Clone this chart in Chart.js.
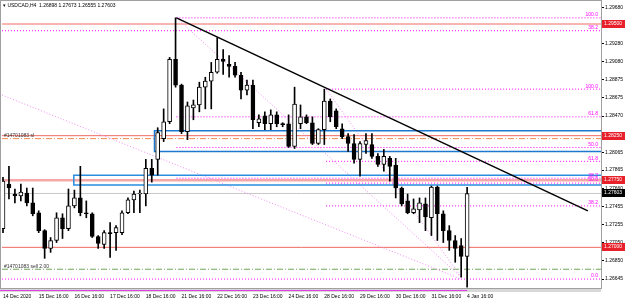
<!DOCTYPE html>
<html>
<head>
<meta charset="utf-8">
<script src="https://cdn.jsdelivr.net/npm/chart.js@4.4.0/dist/chart.umd.min.js"></script>
<style>
  html, body { margin: 0; padding: 0; background: #fff; }
  canvas { display: block; }
</style>
</head>
<body>
<canvas id="chart" width="625" height="302"></canvas>
<script>
// USDCAD H4 candles, 14 Dec 16:00 .. 4 Jan 16:00
const opens = [1.27209,1.27708,1.27597,1.27575,1.27608,1.27497,1.27387,1.27187,1.26988,1.27077,
  1.27331,1.27209,1.27464,1.27553,1.27387,1.27376,1.27121,1.27032,1.27165,1.27165,
  1.27165,1.27387,1.27531,1.27597,1.27597,1.27885,1.27985,1.28217,1.28406,1.29104,
  1.28816,1.28295,1.28561,1.28594,1.28793,1.28860,1.28960,1.29104,1.29048,1.29026,
  1.28926,1.28760,1.28816,1.28395,1.28472,1.28384,1.28483,1.28384,1.28384,1.28129,
  1.28384,1.28461,1.28395,1.28162,1.28317,1.28638,1.28528,1.28328,1.28240,1.28162,
  1.27985,1.28151,1.28151,1.28018,1.27929,1.27996,1.27918,1.27664,1.27520,1.27387,
  1.27420,1.27486,1.27331,1.27675,1.27376,1.27187,1.27077,1.27021,1.26898];
const highs = [1.27785,1.27907,1.27653,1.27708,1.27664,1.27664,1.27409,1.27198,1.27110,1.27387,
  1.27376,1.27653,1.27641,1.27907,1.27520,1.27387,1.27132,1.27187,1.27276,1.27243,
  1.27409,1.27553,1.27630,1.27641,1.27985,1.27985,1.28339,1.28550,1.29126,1.29569,
  1.28827,1.28627,1.28649,1.28849,1.28904,1.29070,1.29347,1.29214,1.29148,1.29070,
  1.28960,1.28871,1.28871,1.28483,1.28517,1.28539,1.28517,1.28395,1.28483,1.28793,
  1.28594,1.28483,1.28461,1.28328,1.28771,1.28661,1.28550,1.28384,1.28273,1.28262,
  1.28184,1.28273,1.28273,1.28051,1.28096,1.28018,1.27996,1.27675,1.27597,1.27542,
  1.27553,1.27553,1.27686,1.27686,1.27409,1.27243,1.27132,1.27099,1.27673];
const lows = [1.27165,1.27542,1.27497,1.27520,1.27464,1.27353,1.27165,1.26877,1.26944,1.27054,
  1.27099,1.27187,1.27442,1.27353,1.27331,1.27110,1.26988,1.26988,1.26888,1.26966,
  1.27143,1.27376,1.27387,1.27387,1.27464,1.27730,1.27808,1.28184,1.28384,1.28793,
  1.28273,1.28206,1.28428,1.28517,1.28550,1.28550,1.28949,1.28937,1.28904,1.28904,
  1.28661,1.28705,1.28328,1.28350,1.28317,1.28317,1.28350,1.28350,1.28118,1.28107,
  1.28328,1.28384,1.28151,1.28151,1.28151,1.28406,1.28328,1.28217,1.28073,1.27941,
  1.27797,1.28051,1.27996,1.27907,1.27852,1.27741,1.27553,1.27464,1.27376,1.27376,
  1.27276,1.27187,1.27132,1.27077,1.27054,1.26966,1.26833,1.26667,1.26555];
const closes = [1.27741,1.27664,1.27575,1.27619,1.27497,1.27376,1.27187,1.26988,1.27077,1.27331,
  1.27209,1.27464,1.27553,1.27387,1.27376,1.27121,1.27043,1.27165,1.27154,1.27220,
  1.27387,1.27531,1.27597,1.27608,1.27885,1.27808,1.28284,1.28406,1.29104,1.28816,
  1.28295,1.28583,1.28594,1.28793,1.28860,1.28960,1.29104,1.29081,1.29026,1.28926,
  1.28760,1.28816,1.28428,1.28439,1.28384,1.28483,1.28384,1.28373,1.28129,1.28605,
  1.28461,1.28395,1.28162,1.28317,1.28638,1.28461,1.28350,1.28240,1.28162,1.27985,
  1.28162,1.28195,1.28018,1.27929,1.28018,1.27907,1.27664,1.27486,1.27387,1.27431,
  1.27497,1.27342,1.27675,1.27376,1.27187,1.27077,1.26988,1.26899,1.27603];

// time axis labels (bar index -> text)
const timeTickIdx = [0, 6, 12, 18, 24, 30, 36, 42, 48, 54, 60, 66, 72, 78];
const timeTickLabels = ['14 Dec 2020', '15 Dec 16:00', '16 Dec 16:00', '17 Dec 16:00', '18 Dec 16:00',
  '21 Dec 16:00', '22 Dec 16:00', '23 Dec 16:00', '24 Dec 16:00', '28 Dec 16:00',
  '29 Dec 16:00', '30 Dec 16:00', '31 Dec 16:00', '4 Jan 16:00'];

// price axis labels
const priceTicks = [1.29680, 1.29475, 1.29280, 1.29080, 1.28875, 1.28675, 1.28470, 1.28265,
  1.28065, 1.27865, 1.27660, 1.27455, 1.27255, 1.27050, 1.26850, 1.26645];
const priceTickLabels = ['1.29680', '1.29475', '1.29280', '1.29080', '1.28875', '1.28675', '1.28470', '1.28265',
  '1.28065', '1.27865', '1.27660', '1.27455', '1.27255', '1.27050', '1.26850', '1.26645'];

// user horizontal lines (red)
const redLevels = [1.29500, 1.28250, 1.27750, 1.27000];
const redLabels = ['1.29500', '1.28250', '1.27750', '1.27000'];
const bidPrice = 1.27603;

// order lines
const slPrice = 1.28217;
const entryPrice = 1.26755;

// fibonacci levels
const fib1Start = 29.15;
const fib1Levels = [1.29569, 1.28461, 1.28118, 1.27774];
const fib1Names = ['100.0', '61.8', '50.0', '38.2'];
const fib2Start = 54.3;
const fib2Levels = [1.28771, 1.27963, 1.27719, 1.27464];
const fib2Names = ['100.0', '61.8', '50.0', '38.2'];
const fib3Levels = [1.29425, 1.26645];
const fib3Names = ['38.2', '0.0'];
const fibDiagX = [[29.15, 77], [54.3, 77], [-0.17, 77]];
const fibDiagY = [[1.29569, 1.26667], [1.28771, 1.26667], [1.28705, 1.26645]];

// trend line and zones
const trendX = [29.15, 98.3];
const trendY = [1.29569, 1.27409];
const zoneX = [25.46, 11.9];
const zoneTop = [1.28306, 1.27808];
const zoneBottom = [1.28073, 1.27697];

const X_MIN = -0.17, X_MAX = 100.5;
const Y_MIN = 1.26545, Y_MAX = 1.29724;

function hline(y, x0, color, dash, width) {
  return {
    type: 'line', data: [{x: x0, y: y}, {x: X_MAX, y: y}],
    borderColor: color, borderWidth: width || 1, borderDash: dash || [],
    pointRadius: 0, order: 5
  };
}

const lineSets = [];
fib3Levels.forEach(v => lineSets.push(hline(v, X_MIN, '#ff00ff', [1, 2])));
fib1Levels.forEach(v => lineSets.push(hline(v, fib1Start, '#ff00ff', [1, 2])));
fib2Levels.forEach(v => lineSets.push(hline(v, fib2Start, '#ff00ff', [1, 2])));
fibDiagX.forEach((xs, k) => lineSets.push({
  type: 'line', data: [{x: xs[0], y: fibDiagY[k][0]}, {x: xs[1], y: fibDiagY[k][1]}],
  borderColor: '#f48cf4', borderWidth: 1, borderDash: [1, 2], pointRadius: 0, order: 5
}));
lineSets.push(hline(bidPrice, X_MIN, '#c8c8c8'));
redLevels.forEach((v, k) => lineSets.push(hline(v, X_MIN, k === 2 ? '#f6a8a8' : '#f06a62', [], k === 2 ? 2.5 : 1)));
lineSets.push(hline(slPrice, X_MIN, '#f08a4a', [6, 2, 1, 2]));
lineSets.push(hline(entryPrice, X_MIN, '#6fa85a', [6, 2, 1, 2]));
zoneX.forEach((x0, k) => lineSets.push({
  type: 'line',
  data: [{x: X_MAX, y: zoneTop[k]}, {x: x0, y: zoneTop[k]}, {x: x0, y: zoneBottom[k]}, {x: X_MAX, y: zoneBottom[k]}],
  borderColor: k === 0 ? '#1f78cf' : '#2a8ee0', borderWidth: 1.5, pointRadius: 0, order: 4
}));
lineSets.push({
  type: 'line', data: [{x: trendX[0], y: trendY[0]}, {x: trendX[1], y: trendY[1]}],
  borderColor: '#000', borderWidth: 1.5, pointRadius: 0, order: 3
});

const bull = opens.map((o, i) => closes[i] >= o);

const overlay = {
  id: 'overlay',
  beforeDraw(chart) {
    const c = chart.ctx;
    c.save();
    c.fillStyle = '#fff';
    c.fillRect(0, 0, chart.width, chart.height);
    c.restore();
  },
  afterDraw(chart) {
    const c = chart.ctx, ys = chart.scales.y, xs = chart.scales.x, a = chart.chartArea;
    c.save();
    c.font = '5px "Liberation Sans"';
    c.textBaseline = 'middle';
    // fib labels
    c.fillStyle = '#ff00ff';
    c.textAlign = 'right';
    const fl = (v, t) => c.fillText(t, a.right - 3, ys.getPixelForValue(v) - 3);
    fib1Levels.forEach((v, k) => fl(v, fib1Names[k]));
    fib2Levels.forEach((v, k) => fl(v, fib2Names[k]));
    fib3Levels.forEach((v, k) => fl(v, fib3Names[k]));
    // order labels
    c.textAlign = 'left';
    c.fillStyle = '#333';
    c.fillText('#14701083 sl', 4, ys.getPixelForValue(slPrice) - 3);
    c.fillText('#14701083 sell 2.00', 4, ys.getPixelForValue(entryPrice) - 3);
    // title
    c.fillStyle = '#000';
    c.fillText('\u25BE USDCAD,H4  1.26898 1.27673 1.26555 1.27603', 3, 6);
    // price boxes
    const box = (v, t, bg) => {
      const y = Math.round(ys.getPixelForValue(v));
      c.fillStyle = bg;
      c.fillRect(a.right + 1, y - 4, 23, 8);
      c.fillStyle = '#fff';
      c.fillText(t, a.right + 3, y);
    };
    redLevels.forEach((v, k) => box(v, redLabels[k], '#e8202a'));
    box(bidPrice, '1.27603', '#000');
    // bottom strip
    c.fillStyle = '#d8d8d8';
    c.fillRect(0, a.bottom + 1, a.right, 3);
    c.fillStyle = '#e040e0';
    c.fillRect(0, a.bottom + 2, xs.getPixelForValue(78), 1);
    // frame
    c.strokeStyle = '#a0a0a0';
    c.lineWidth = 1;
    c.strokeRect(0.5, 0.5, a.right, a.bottom);
    c.restore();
  }
};

new Chart(document.getElementById('chart'), {
  type: 'bar',
  data: {
    datasets: [
      {
        label: 'wicks',
        data: lows.map((l, i) => ({x: i, y: [l, highs[i]]})),
        backgroundColor: '#000', barThickness: 1, grouped: false, order: 2
      },
      {
        label: 'bodies',
        data: opens.map((o, i) => ({x: i, y: [o, closes[i]]})),
        backgroundColor: bull.map(b => b ? '#fff' : '#000'),
        borderColor: '#000', borderWidth: 1, borderSkipped: false,
        barThickness: 4, minBarLength: 1, grouped: false, order: 1
      },
      ...lineSets
    ]
  },
  options: {
    responsive: false,
    animation: false,
    devicePixelRatio: 1,
    layout: { padding: { top: 1, left: 0, right: 0, bottom: 0 } },
    plugins: { legend: { display: false }, tooltip: { enabled: false } },
    scales: {
      x: {
        type: 'linear', min: X_MIN, max: X_MAX, offset: false,
        grid: { display: true, drawOnChartArea: false, drawTicks: true, tickLength: 3, color: '#000' },
        border: { display: true, color: '#000' },
        afterBuildTicks: s => { s.ticks = timeTickIdx.map(v => ({value: v})); },
        afterFit: s => { s.height = 14; },
        ticks: {
          autoSkip: false, maxRotation: 0, align: 'start', padding: 3,
          font: { family: 'Liberation Sans', size: 5 }, color: '#000',
          callback: (v) => timeTickLabels[timeTickIdx.indexOf(v)]
        }
      },
      y: {
        position: 'right', min: Y_MIN, max: Y_MAX,
        grid: { display: true, drawOnChartArea: false, drawTicks: true, tickLength: 3, color: '#000' },
        border: { display: true, color: '#000' },
        afterBuildTicks: s => { s.ticks = priceTicks.map(v => ({value: v})); },
        afterFit: s => { s.width = 24; },
        ticks: {
          autoSkip: false, padding: 1,
          font: { family: 'Liberation Sans', size: 5 }, color: '#000',
          callback: (v) => priceTickLabels[priceTicks.indexOf(v)]
        }
      }
    }
  },
  plugins: [overlay]
});
</script>
</body>
</html>
